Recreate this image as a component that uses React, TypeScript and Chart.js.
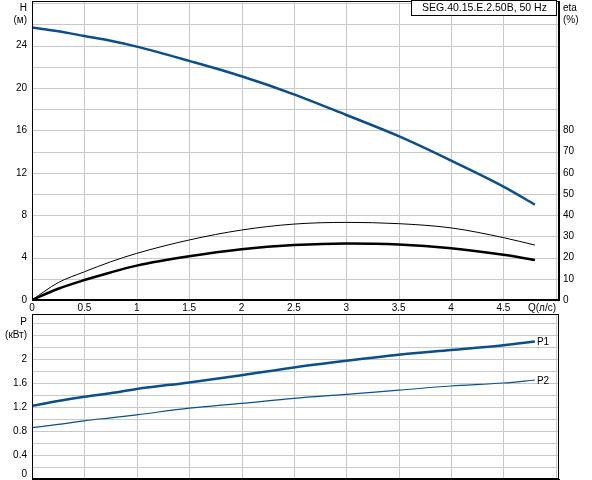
import React, { useEffect, useRef } from 'react';
import { Chart, registerables } from 'chart.js';

Chart.register(...registerables);

// flow rate Q (л/с)
const flow = [0, 0.25, 0.5, 0.75, 1, 1.5, 2, 2.5, 3, 3.5, 4, 4.5, 4.8];
// head H (м)
const head = [25.7, 25.35, 24.9, 24.45, 23.9, 22.55, 21.1, 19.4, 17.45, 15.45, 13.15, 10.7, 9.0];
// efficiency eta (%)
const etaThin = [0, 8.2, 13.3, 18.0, 22.0, 28.3, 33.0, 35.8, 36.6, 36.0, 34.0, 29.4, 25.9];
const etaThick = [0, 5.3, 9.4, 13.0, 16.2, 20.6, 23.9, 25.9, 26.7, 26.2, 24.4, 21.3, 18.9];
// power P (кВт)
const powerP1 = [1.22, 1.3, 1.37, 1.43, 1.5, 1.61, 1.73, 1.86, 1.97, 2.07, 2.15, 2.23, 2.29];
const powerP2 = [0.855, 0.91, 0.97, 1.02, 1.07, 1.18, 1.26, 1.345, 1.41, 1.48, 1.55, 1.6, 1.65];

const qTicks = [0, 0.5, 1, 1.5, 2, 2.5, 3, 3.5, 4, 4.5];
const title = 'SEG.40.15.E.2.50B, 50 Hz';

const BLUE = '#0b4f8a';
const GRID = '#c8c8c8';
const FONT = '"Liberation Sans", Arial, sans-serif';
const tickFont = { family: FONT, size: 10 };

const pts = (ys: number[]) => flow.map((x, i) => ({ x, y: ys[i] }));

const noPadY = (w: number) => (s: any) => {
  s.width = w;
  s.paddingTop = 0;
  s.paddingBottom = 0;
};

// grid and frame drawn from the chart's own scales
const gridFrame = {
  id: 'gridFrame',
  beforeDatasetsDraw(chart: any, _args: any, opts: any) {
    const { ctx, chartArea: a } = chart;
    const x = chart.scales.x;
    const y = chart.scales.y;
    ctx.save();
    ctx.strokeStyle = GRID;
    ctx.lineWidth = 1;
    ctx.beginPath();
    [...qTicks, 5].forEach((v) => {
      const px = Math.round(x.getPixelForValue(v)) + 0.5;
      ctx.moveTo(px, a.top);
      ctx.lineTo(px, a.bottom);
    });
    for (let v = opts.step; v < y.max; v += opts.step) {
      const py = Math.round(y.getPixelForValue(v)) + 0.5;
      ctx.moveTo(a.left, py);
      ctx.lineTo(a.right, py);
    }
    ctx.stroke();
    ctx.restore();
  },
  afterDraw(chart: any) {
    const { ctx, chartArea: a } = chart;
    ctx.save();
    ctx.strokeStyle = '#000';
    ctx.lineWidth = 1;
    ctx.strokeRect(Math.round(a.left) + 0.5, Math.round(a.top) + 0.5, Math.round(a.right - a.left) - 1, Math.round(a.bottom - a.top) - 1);
    ctx.restore();
  },
};

const topLabels = {
  id: 'topLabels',
  afterDraw(chart: any) {
    const { ctx, chartArea: a } = chart;
    ctx.save();
    ctx.fillStyle = '#000';
    ctx.font = `10px ${FONT}`;
    ctx.textBaseline = 'middle';
    ctx.textAlign = 'right';
    ctx.fillText('H', a.left - 5, 8);
    ctx.fillText('(м)', a.left - 5, 20);
    ctx.fillText('Q(л/с)', a.right - 3, a.bottom + 8);
    ctx.textAlign = 'left';
    ctx.fillText('eta', a.right + 4, 8);
    ctx.fillText('(%)', a.right + 4, 20);
    // title box
    ctx.font = `10.5px ${FONT}`;
    const w = 145;
    const x0 = a.right - 3 - w;
    ctx.fillStyle = '#fff';
    ctx.fillRect(x0, 0, w, 15);
    ctx.strokeStyle = '#000';
    ctx.lineWidth = 1;
    ctx.strokeRect(x0 + 0.5, 0.5, w, 15);
    ctx.fillStyle = '#000';
    ctx.textAlign = 'center';
    ctx.fillText(title, x0 + w / 2 + 1, 8);
    ctx.restore();
  },
};

const bottomLabels = {
  id: 'bottomLabels',
  afterDraw(chart: any) {
    const { ctx, chartArea: a } = chart;
    const y = chart.scales.y;
    ctx.save();
    ctx.fillStyle = '#000';
    ctx.font = `10px ${FONT}`;
    ctx.textBaseline = 'middle';
    ctx.textAlign = 'right';
    ctx.fillText('P', a.left - 5, 10);
    ctx.fillText('(кВт)', a.left - 5, 23);
    ctx.fillText('0', a.left - 5, y.getPixelForValue(0) - 5);
    ctx.textAlign = 'left';
    ['P1', 'P2'].forEach((name, i) => {
      const meta = chart.getDatasetMeta(i);
      const last = meta.data[meta.data.length - 1];
      ctx.fillText(name, last.x + 2, last.y + 1);
    });
    ctx.restore();
  },
};

const xScale = (showTicks: boolean) => ({
  type: 'linear',
  min: 0,
  max: 5.03,
  afterBuildTicks: (s: any) => { s.ticks = [...qTicks, 5].map((v) => ({ value: v })); },
  ticks: {
    display: showTicks,
    color: '#000',
    font: tickFont,
    padding: 2,
    maxRotation: 0,
    autoSkip: false,
    callback: (v: any) => (v >= 5 ? '' : String(v)),
  },
  grid: { display: false, drawTicks: false },
  border: { color: '#000' },
  afterFit: (s: any) => {
    s.height = showTicks ? 14 : 0;
    s.paddingLeft = 0;
    s.paddingRight = 0;
  },
});

function TopChart() {
  const canvas = useRef<HTMLCanvasElement>(null);
  useEffect(() => {
    const chart = new Chart(canvas.current!, {
      type: 'line',
      data: {
        datasets: [
          { label: 'H', data: pts(head), borderColor: BLUE, borderWidth: 2.5, yAxisID: 'y' },
          { label: 'eta1', data: pts(etaThin), borderColor: '#000', borderWidth: 1, yAxisID: 'y2' },
          { label: 'eta2', data: pts(etaThick), borderColor: '#000', borderWidth: 2.5, yAxisID: 'y2' },
        ],
      },
      options: {
        animation: false,
        responsive: false,
        parsing: false,
        elements: { point: { radius: 0 }, line: { cubicInterpolationMode: 'monotone' } },
        layout: { padding: { top: 1, left: 0, right: 0, bottom: 0 } },
        plugins: { legend: { display: false }, tooltip: { enabled: false }, gridFrame: { step: 2 } } as any,
        scales: {
          x: xScale(true) as any,
          y: {
            position: 'left',
            min: 0,
            max: 28.2,
            ticks: {
              stepSize: 2,
              includeBounds: false,
              color: '#000',
              font: tickFont,
              padding: 5,
              autoSkip: false,
              callback: (v: any) => (v % 4 === 0 && v <= 24 ? String(v) : ''),
            },
            grid: { display: false, drawTicks: false },
            border: { color: '#000' },
            afterFit: noPadY(32),
          },
          y2: {
            position: 'right',
            min: 0,
            max: 141,
            ticks: {
              stepSize: 10,
              includeBounds: false,
              color: '#000',
              font: tickFont,
              padding: 4,
              autoSkip: false,
              callback: (v: any) => (v <= 80 ? String(v) : ''),
            },
            grid: { display: false, drawTicks: false },
            border: { color: '#000' },
            afterFit: noPadY(33),
          },
        },
      },
      plugins: [gridFrame, topLabels],
    });
    return () => chart.destroy();
  }, []);
  return <canvas ref={canvas} width={592} height={314} />;
}

function BottomChart() {
  const canvas = useRef<HTMLCanvasElement>(null);
  useEffect(() => {
    const chart = new Chart(canvas.current!, {
      type: 'line',
      data: {
        datasets: [
          { label: 'P1', data: pts(powerP1), borderColor: BLUE, borderWidth: 2.5 },
          { label: 'P2', data: pts(powerP2), borderColor: BLUE, borderWidth: 1.2 },
        ],
      },
      options: {
        animation: false,
        responsive: false,
        parsing: false,
        elements: { point: { radius: 0 }, line: { cubicInterpolationMode: 'monotone' } },
        layout: { padding: { top: 2, left: 0, right: 33, bottom: 1 } },
        plugins: { legend: { display: false }, tooltip: { enabled: false }, gridFrame: { step: 0.2 } } as any,
        scales: {
          x: xScale(false) as any,
          y: {
            position: 'left',
            min: 0,
            max: 2.75,
            ticks: {
              stepSize: 0.2,
              includeBounds: false,
              color: '#000',
              font: tickFont,
              padding: 5,
              autoSkip: false,
              callback: (v: any) => {
                const k = v / 0.4;
                return v > 0 && v <= 2.01 && Math.abs(k - Math.round(k)) < 1e-6 ? String(Math.round(v * 10) / 10) : '';
              },
            },
            grid: { display: false, drawTicks: false },
            border: { color: '#000' },
            afterFit: noPadY(32),
          },
        },
      },
      plugins: [gridFrame, bottomLabels],
    });
    return () => chart.destroy();
  }, []);
  return <canvas ref={canvas} width={592} height={168} />;
}

export default function App() {
  return (
    <div style={{ position: 'absolute', left: 0, top: 0, width: 592, height: 480, background: '#fff' }}>
      <div style={{ position: 'absolute', left: 0, top: 0 }}>
        <TopChart />
      </div>
      <div style={{ position: 'absolute', left: 0, top: 312 }}>
        <BottomChart />
      </div>
    </div>
  );
}
